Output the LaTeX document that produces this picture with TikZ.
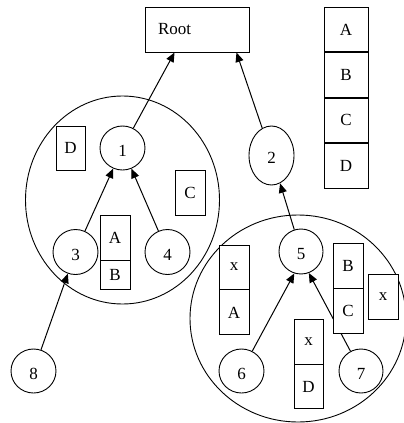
\documentclass[tikz,border=0pt]{standalone}
\usepackage{fontspec}
\setmainfont{Liberation Serif}
\usetikzlibrary{shapes.geometric,arrows.meta,calc}
\tikzset{
  every node/.style={font=\fontsize{17}{20}\selectfont},
  box/.style={draw,fill=white,rectangle,inner sep=0pt,line width=0.9pt},
  vert/.style={draw,fill=white,ellipse,inner sep=0pt,line width=0.9pt,text height=16pt,text depth=0pt},
  grp/.style={draw,ellipse,inner sep=0pt,line width=0.9pt},
  arr/.style={-{Triangle[length=9.5pt,width=8pt]},line width=1pt},
}
\begin{document}
\begin{tikzpicture}[x=1pt,y=-1pt]
\useasboundingbox (0,0) rectangle (404,423);
% group ellipses
\node[grp,minimum width=194pt,minimum height=208pt] (grpL) at (122.5,200) {};
\node[grp,minimum width=216pt,minimum height=207pt] (grpR) at (298,318.5) {};
% root
\node[box,minimum width=104pt,minimum height=45pt,text width=78pt,inner xsep=13pt,align=left] (root) at (197,29.5) {Root};
% stack
\node[box,minimum width=44pt,minimum height=44.5pt] (sA) at (346,29.5) {A};
\node[box,minimum width=44pt,minimum height=44.5pt,anchor=north] (sB) at (sA.south) {B};
\node[box,minimum width=44pt,minimum height=44.5pt,anchor=north] (sC) at (sB.south) {C};
\node[box,minimum width=44pt,minimum height=44.5pt,anchor=north] (sD) at (sC.south) {D};
% vertices
\node[vert,minimum width=45pt,minimum height=44pt] (n1) at (122.5,148) {1};
\node[vert,minimum width=45pt,minimum height=59pt] (n2) at (271.5,155.5) {2};
\node[vert,minimum width=45pt,minimum height=45pt] (n3) at (75.5,252) {3};
\node[vert,minimum width=45pt,minimum height=45pt] (n4) at (167.5,252) {4};
\node[vert,minimum width=44pt,minimum height=45pt] (n5) at (301,251.5) {5};
\node[vert,minimum width=45pt,minimum height=44pt] (n6) at (241.5,371) {6};
\node[vert,minimum width=44pt,minimum height=44pt] (n7) at (361,371) {7};
\node[vert,minimum width=45pt,minimum height=44pt] (n8) at (33.5,371) {8};
% edges
\draw[arr] (n1) -- ([xshift=30pt]root.south west);
\draw[arr] (n2) -- ([xshift=-13pt]root.south east);
\draw[arr] (n3) -- (n1);
\draw[arr] (n4) -- (n1);
\draw[arr] (n8) -- (n3);
\draw[arr] (n5) -- (n2);
\draw[arr] (n6) -- (n5.-107);
\draw[arr] (n7) -- (n5.-70);
% left group boxes
\node[box,minimum width=29pt,minimum height=44pt] (bD) at (70.5,148) {D};
\node[box,minimum width=30pt,minimum height=45pt] (bC) at (190,192.5) {C};
\node[box,minimum width=30pt,minimum height=45pt] (abA) at (115,237.5) {A};
\node[box,minimum width=30pt,minimum height=29pt,anchor=north] (abB) at (abA.south) {B};
% right group boxes
\node[box,minimum width=30pt,minimum height=44pt] (xaX) at (234,267) {x};
\node[box,minimum width=30pt,minimum height=45pt,anchor=north] (xaA) at (xaX.south) {A};
\node[box,minimum width=30pt,minimum height=45pt] (bcB) at (348,265.5) {B};
\node[box,minimum width=30pt,minimum height=45pt,anchor=north] (bcC) at (bcB.south) {C};
\node[box,minimum width=30pt,minimum height=45pt] (rx) at (383,296.5) {x};
\node[box,minimum width=29pt,minimum height=45pt] (xdX) at (308.5,341.5) {x};
\node[box,minimum width=29pt,minimum height=44pt,anchor=north] (xdD) at (xdX.south) {D};
\end{tikzpicture}
\end{document}
